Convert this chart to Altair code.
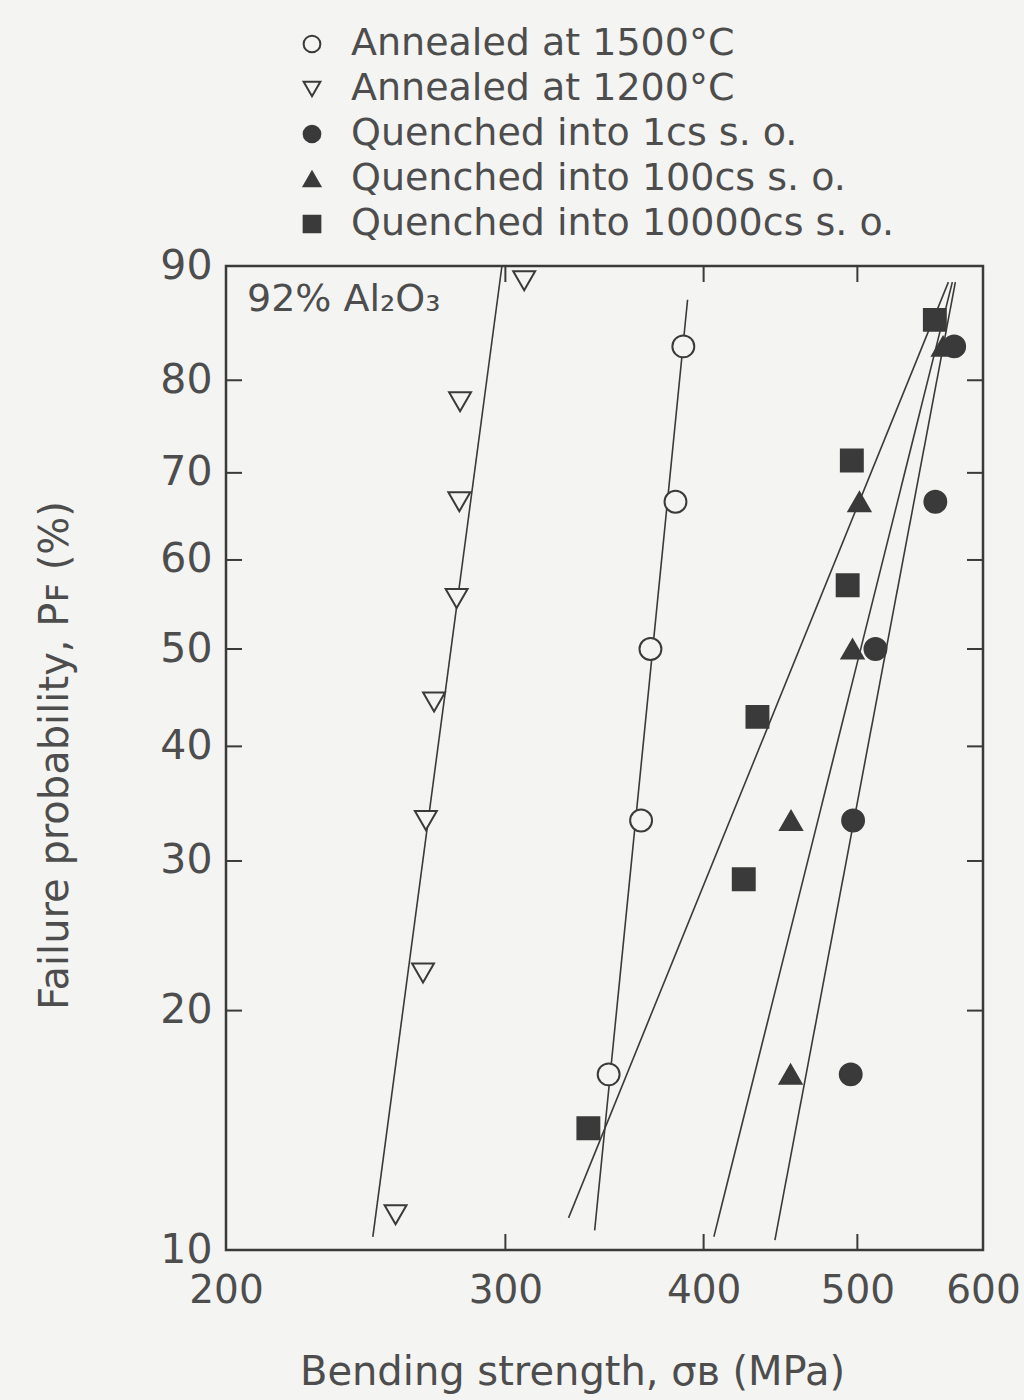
import math

import altair as alt
import pandas as pd

FONT = "DejaVu Sans"
INK = "#3a3a3a"
TEXT = "#4d4d4d"
PAPER = "#f4f4f2"

# plot area size and its placement on the page
W, H = 757, 984
PAD = {"left": 226, "top": 266, "right": 41, "bottom": 150}

series_names = [
    "Annealed at 1500°C",
    "Annealed at 1200°C",
    "Quenched into 1cs s. o.",
    "Quenched into 100cs s. o.",
    "Quenched into 10000cs s. o.",
]
series_shapes = ["circle", "triangle-down", "circle", "triangle-up", "square"]
series_fills = [PAPER, PAPER, INK, INK, INK]

# bending strength (MPa) and failure probability (%) of each specimen
a1500_mpa = [348.5, 365.3, 370.3, 384.0, 388.4]
a1500_pf = [16.7, 33.3, 50.0, 66.7, 83.3]
a1200_mpa = [255.8, 266.2, 267.3, 270.5, 279.5, 280.6, 280.9, 308.3]
a1200_pf = [11.1, 22.2, 33.3, 44.4, 55.6, 66.7, 77.8, 88.9]
q1_mpa = [495.2, 496.9, 513.3, 559.9, 575.4]
q1_pf = [16.7, 33.3, 50.0, 66.7, 83.3]
q100_mpa = [453.8, 454.1, 496.5, 501.5, 566.2]
q100_pf = [16.7, 33.3, 50.0, 66.7, 83.3]
q10000_mpa = [338.4, 424.0, 432.5, 493.0, 496.0, 559.5]
q10000_pf = [14.3, 28.6, 42.9, 57.1, 71.4, 85.7]

# end points of the fitted Weibull lines
fit_a1500_mpa = [341.5, 390.8]
fit_a1500_pf = [10.6, 87.4]
fit_a1200_mpa = [247.5, 298.5]
fit_a1200_pf = [10.4, 90.0]
fit_q1_mpa = [443.6, 576.4]
fit_q1_pf = [10.3, 88.8]
fit_q100_mpa = [406.0, 573.9]
fit_q100_pf = [10.4, 88.8]
fit_q10000_mpa = [328.8, 570.6]
fit_q10000_pf = [11.0, 88.8]

x_ticks = [200, 300, 400, 500, 600]
pf_ticks = [10, 20, 30, 40, 50, 60, 70, 80, 90]
inner_x_ticks = [300, 400, 500]
inner_pf_ticks = [20, 30, 40, 50, 60, 70, 80]
annotation = "92% Al₂O₃"


def weibull(p):
    """Weibull probability coordinate ln(-ln(1 - F))."""
    return math.log(-math.log(1 - p / 100.0))


def frame(names, xs_list, ps_list):
    rows = []
    for name, xs, ps in zip(names, xs_list, ps_list):
        for x, p in zip(xs, ps):
            rows.append({"series": name, "mpa": x, "pf": p})
    return pd.DataFrame(rows)


points = frame(
    series_names,
    [a1500_mpa, a1200_mpa, q1_mpa, q100_mpa, q10000_mpa],
    [a1500_pf, a1200_pf, q1_pf, q100_pf, q10000_pf],
)
fits = frame(
    series_names,
    [fit_a1500_mpa, fit_a1200_mpa, fit_q1_mpa, fit_q100_mpa, fit_q10000_mpa],
    [fit_a1500_pf, fit_a1200_pf, fit_q1_pf, fit_q100_pf, fit_q10000_pf],
)

WB_EXPR = "log(-log(1 - datum.pf / 100))"

x_scale = alt.Scale(type="log", domain=[200, 600], nice=False)
y_scale = alt.Scale(domain=[weibull(10), weibull(90)], nice=False, zero=False)

X = alt.X(
    "mpa:Q",
    scale=x_scale,
    axis=alt.Axis(
        values=x_ticks,
        format="d",
        title="Bending strength, σʙ (MPa)",
        titleX=346,
        titleY=122,
        titleBaseline="middle",
        titleAlign="center",
        labelPadding=21,
        labelFlush=False,
        labelOverlap=False,
        labelBound=False,
        labelFontSize=39,
        titleFontSize=40,
    ),
)
Y = alt.Y(
    "wb:Q",
    scale=y_scale,
    axis=alt.Axis(
        values=[weibull(p) for p in pf_ticks],
        labelExpr="round((1 - exp(-exp(datum.value))) * 100)",
        title="Failure probability, Pꜰ (%)",
        titleX=-171,
        titleY=H / 2 - 3,
        titleAngle=-90,
        titleBaseline="middle",
        titleAlign="center",
        labelPadding=14,
        labelOverlap=False,
        labelFontSize=41,
        titleFontSize=40,
    ),
)

legend = alt.Legend(
    title=None,
    orient="none",
    legendX=67,
    legendY=-241,
    padding=0,
    labelFontSize=38,
    labelFont=FONT,
    labelColor=TEXT,
    labelLimit=0,
    labelOffset=20,
    symbolSize=280,
    symbolStrokeWidth=2,
    rowPadding=7,
)

fit_lines = (
    alt.Chart(fits)
    .transform_calculate(wb=WB_EXPR)
    .mark_line(color=INK, strokeWidth=1.6)
    .encode(x=X, y=Y, detail="series:N")
)

markers = (
    alt.Chart(points)
    .transform_calculate(wb=WB_EXPR)
    .mark_point(filled=True, size=480, strokeWidth=2, opacity=1)
    .encode(
        x=X,
        y=Y,
        shape=alt.Shape(
            "series:N",
            scale=alt.Scale(domain=series_names, range=series_shapes),
            legend=legend,
        ),
        fill=alt.Fill(
            "series:N",
            scale=alt.Scale(domain=series_names, range=series_fills),
            legend=legend,
        ),
        stroke=alt.Stroke(
            "series:N",
            scale=alt.Scale(domain=series_names, range=[INK] * len(series_names)),
            legend=legend,
        ),
    )
)

# inward tick marks on all four sides of the frame
TICK = 16
pf_tick_df = pd.DataFrame({"pf": inner_pf_ticks})
x_tick_df = pd.DataFrame({"mpa": inner_x_ticks})

left_ticks = (
    alt.Chart(pf_tick_df)
    .transform_calculate(wb=WB_EXPR)
    .mark_rule(color=INK, strokeWidth=2)
    .encode(y=Y, x=alt.value(0), x2=alt.value(TICK))
)
right_ticks = (
    alt.Chart(pf_tick_df)
    .transform_calculate(wb=WB_EXPR)
    .mark_rule(color=INK, strokeWidth=2)
    .encode(y=Y, x=alt.value(W - TICK), x2=alt.value(W))
)
bottom_ticks = (
    alt.Chart(x_tick_df)
    .mark_rule(color=INK, strokeWidth=2)
    .encode(x=X, y=alt.value(H - TICK), y2=alt.value(H))
)
top_ticks = (
    alt.Chart(x_tick_df)
    .mark_rule(color=INK, strokeWidth=2)
    .encode(x=X, y=alt.value(0), y2=alt.value(TICK))
)

label = (
    alt.Chart(pd.DataFrame({"text": [annotation]}))
    .mark_text(align="left", baseline="middle", font=FONT, fontSize=38, color=TEXT)
    .encode(text="text:N", x=alt.value(21), y=alt.value(34))
)

chart = (
    alt.layer(fit_lines, left_ticks, right_ticks, bottom_ticks, top_ticks, markers, label)
    .resolve_scale(x="shared", y="shared")
    .properties(
        width=W,
        height=H,
        background=PAPER,
        padding=PAD,
        autosize=alt.AutoSizeParams(type="none"),
    )
    .configure_view(stroke=INK, strokeWidth=2.5)
    .configure_axis(
        ticks=False,
        domain=False,
        grid=False,
        labelFont=FONT,
        titleFont=FONT,
        labelColor=TEXT,
        titleColor=TEXT,
        titleFontWeight="normal",
    )
)

chart.save("out.html", embed_options={"renderer": "svg", "actions": False})
